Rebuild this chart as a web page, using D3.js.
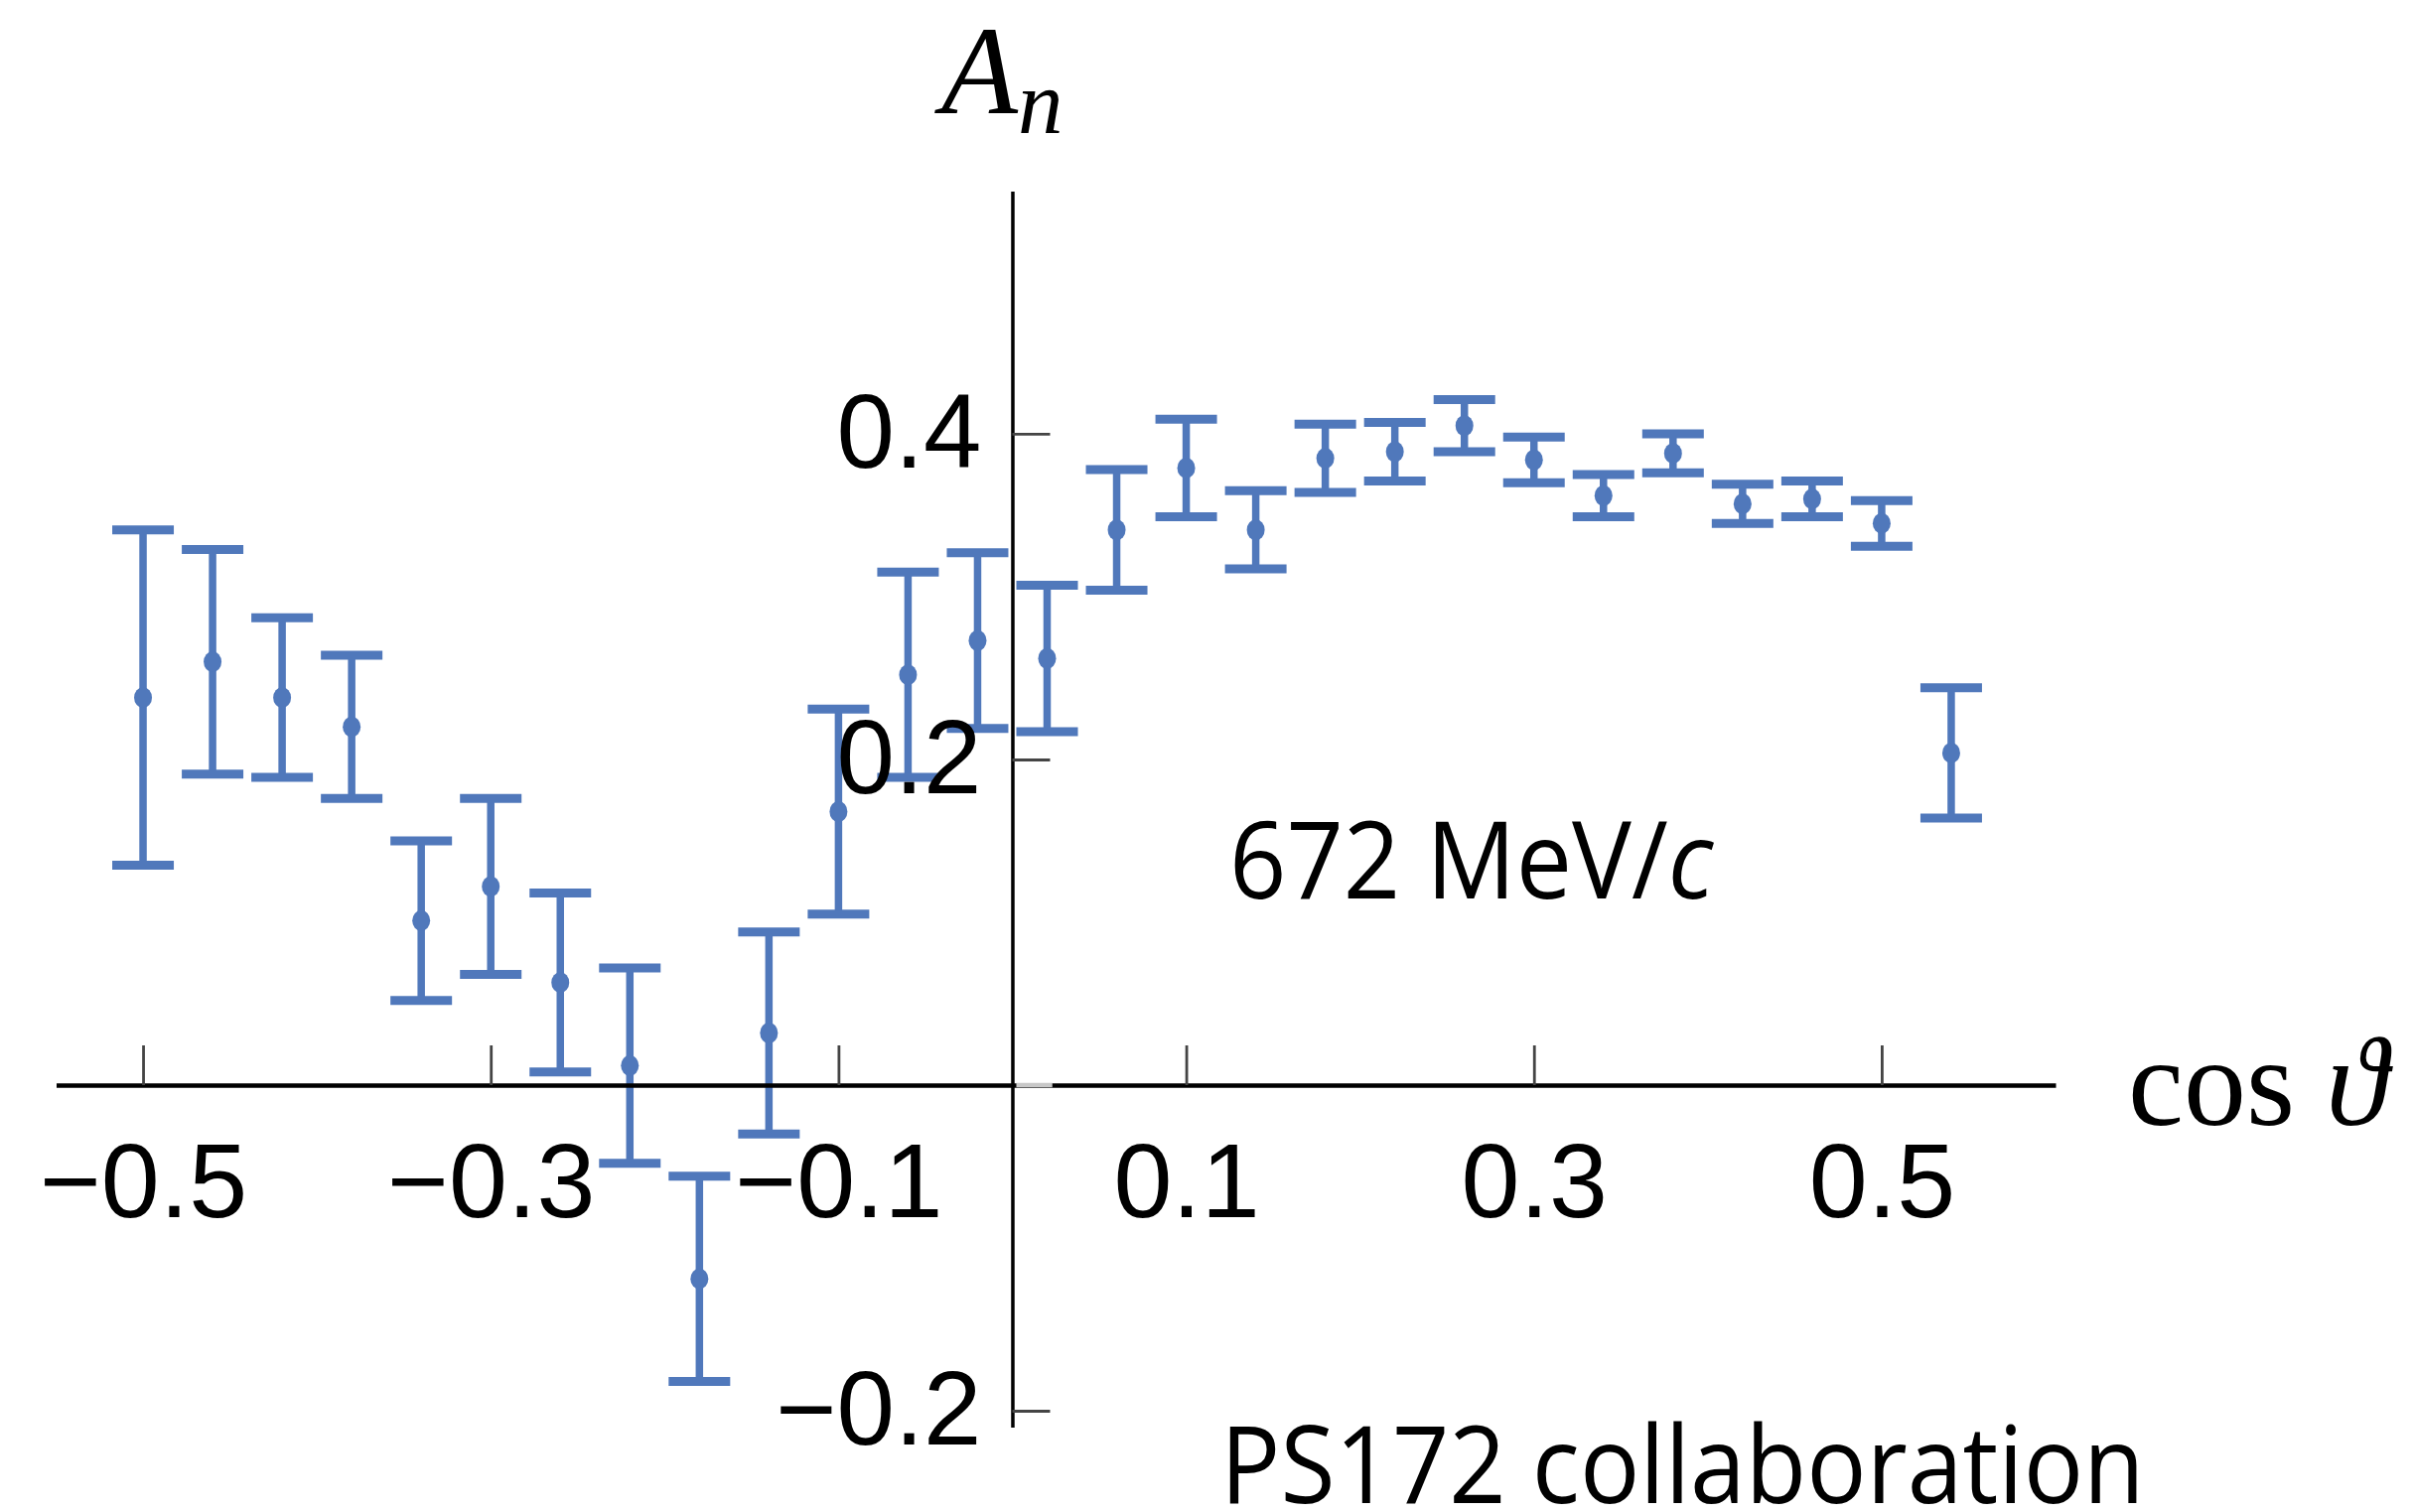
<!DOCTYPE html>
<html>
<head>
<meta charset="utf-8">
<script src="https://cdn.jsdelivr.net/npm/d3@7"></script>
<style>
  html, body { margin: 0; padding: 0; background: #ffffff; }
  svg { display: block; }
</style>
</head>
<body>
<svg id="chart" width="2431" height="1523"></svg>
<script>
// Analyzing power A_n versus cos(theta), PS172 data at 672 MeV/c
const cosTheta = [-0.50, -0.46, -0.42, -0.38, -0.34, -0.30, -0.26, -0.22, -0.18,
                  -0.14, -0.10, -0.06, -0.02, 0.02, 0.06, 0.10, 0.14, 0.18,
                   0.22, 0.26, 0.30, 0.34, 0.38, 0.42, 0.46, 0.50, 0.54];
const analyzingPower = [0.238, 0.260, 0.238, 0.220, 0.101, 0.122, 0.063, 0.012, -0.119,
                        0.032, 0.168, 0.252, 0.273, 0.262, 0.341, 0.379, 0.341, 0.385,
                        0.389, 0.405, 0.384, 0.362, 0.388, 0.357, 0.360, 0.345, 0.204];
const errors = [0.103, 0.069, 0.049, 0.044, 0.049, 0.054, 0.055, 0.060, 0.063,
                0.062, 0.063, 0.063, 0.054, 0.045, 0.037, 0.030, 0.024, 0.021,
                0.018, 0.016, 0.014, 0.013, 0.012, 0.012, 0.011, 0.014, 0.040];
const xTickValues = [-0.5, -0.3, -0.1, 0.1, 0.3, 0.5];
const yTickValues = [0.4, 0.2, -0.2];

const points = cosTheta.map((c, i) => ({ c, a: analyzingPower[i], e: errors[i] }));

const svg = d3.select("#chart");
const barColor = "#5078bb";

const x = d3.scaleLinear().domain([-0.55, 0.60]).range([56.5, 2070]);
const y = d3.scaleLinear().domain([-0.21, 0.549]).range([1437.4, 192.6]);

const fmt = d3.format(".1f");
const tickFont = "'Liberation Sans', Arial, Helvetica, sans-serif";

// error bars
const bars = svg.append("g").attr("class", "bars");
const capHalf = 31;
const eb = bars.selectAll("g.pt").data(points).join("g").attr("class", "pt");
eb.append("line")
  .attr("x1", d => x(d.c)).attr("x2", d => x(d.c))
  .attr("y1", d => y(d.a + d.e)).attr("y2", d => y(d.a - d.e))
  .attr("stroke", barColor).attr("stroke-width", 7.5);
eb.append("line")
  .attr("x1", d => x(d.c) - capHalf).attr("x2", d => x(d.c) + capHalf)
  .attr("y1", d => y(d.a + d.e)).attr("y2", d => y(d.a + d.e))
  .attr("stroke", barColor).attr("stroke-width", 9);
eb.append("line")
  .attr("x1", d => x(d.c) - capHalf).attr("x2", d => x(d.c) + capHalf)
  .attr("y1", d => y(d.a - d.e)).attr("y2", d => y(d.a - d.e))
  .attr("stroke", barColor).attr("stroke-width", 9);
eb.append("ellipse")
  .attr("cx", d => x(d.c)).attr("cy", d => y(d.a))
  .attr("rx", 9).attr("ry", 10.5)
  .attr("fill", barColor);

// horizontal axis: ticks point up, labels below
const xAxis = d3.axisBottom(x)
  .tickValues(xTickValues)
  .tickFormat(fmt)
  .tickSizeInner(-40)
  .tickSizeOuter(0)
  .tickPadding(58);
const gx = svg.append("g").attr("transform", `translate(0,${y(0)})`).call(xAxis);
gx.select(".domain").attr("stroke", "#000").attr("stroke-width", 4.5);
gx.selectAll(".tick line").attr("stroke", "#444").attr("stroke-width", 2.8);
gx.selectAll(".tick text")
  .attr("font-family", tickFont).attr("font-size", 106).attr("fill", "#000");

// light segment of the horizontal axis just right of the vertical axis
svg.append("line")
  .attr("x1", x(0) + 4).attr("x2", x(0.023))
  .attr("y1", y(0)).attr("y2", y(0))
  .attr("stroke", "#c8c8c8").attr("stroke-width", 4.5);

// vertical axis: ticks point right, labels left
const yAxis = d3.axisLeft(y)
  .tickValues(yTickValues)
  .tickFormat(fmt)
  .tickSizeInner(-38)
  .tickSizeOuter(0)
  .tickPadding(31);
const gy = svg.append("g").attr("transform", `translate(${x(0)},0)`).call(yAxis);
gy.select(".domain").attr("stroke", "#000").attr("stroke-width", 3.5);
gy.selectAll(".tick line").attr("stroke", "#444").attr("stroke-width", 2.8);
gy.selectAll(".tick text")
  .attr("font-family", tickFont).attr("font-size", 105).attr("fill", "#000");

// axis titles
const serif = "'Liberation Serif', 'Times New Roman', Times, serif";
const an = svg.append("text")
  .attr("x", 948).attr("y", 114)
  .attr("font-family", serif).attr("font-style", "italic")
  .attr("font-size", 126).attr("fill", "#000");
an.append("tspan").text("A");
an.append("tspan").attr("dy", 20).attr("font-size", 91).text("n");

const ct = svg.append("text")
  .attr("x", 2143).attr("y", 1133)
  .attr("font-family", serif).attr("font-size", 126).attr("fill", "#000");
ct.append("tspan").text("cos ");
ct.append("tspan").attr("font-style", "italic").text("\u03D1");

// annotations (condensed sans)
const sans = "'Open Sans', 'Noto Sans', sans-serif";
const mom = svg.append("text")
  .attr("transform", "translate(1238,905) scale(0.93,1)")
  .attr("font-family", sans).attr("font-size", 108).attr("fill", "#000");
mom.append("tspan").text("672 MeV/");
mom.append("tspan").attr("font-style", "italic").text("c");

svg.append("text")
  .attr("transform", "translate(1229,1514) scale(0.93,1)")
  .attr("font-family", sans).attr("font-size", 108).attr("fill", "#000")
  .text("PS172 collaboration");
</script>
</body>
</html>
